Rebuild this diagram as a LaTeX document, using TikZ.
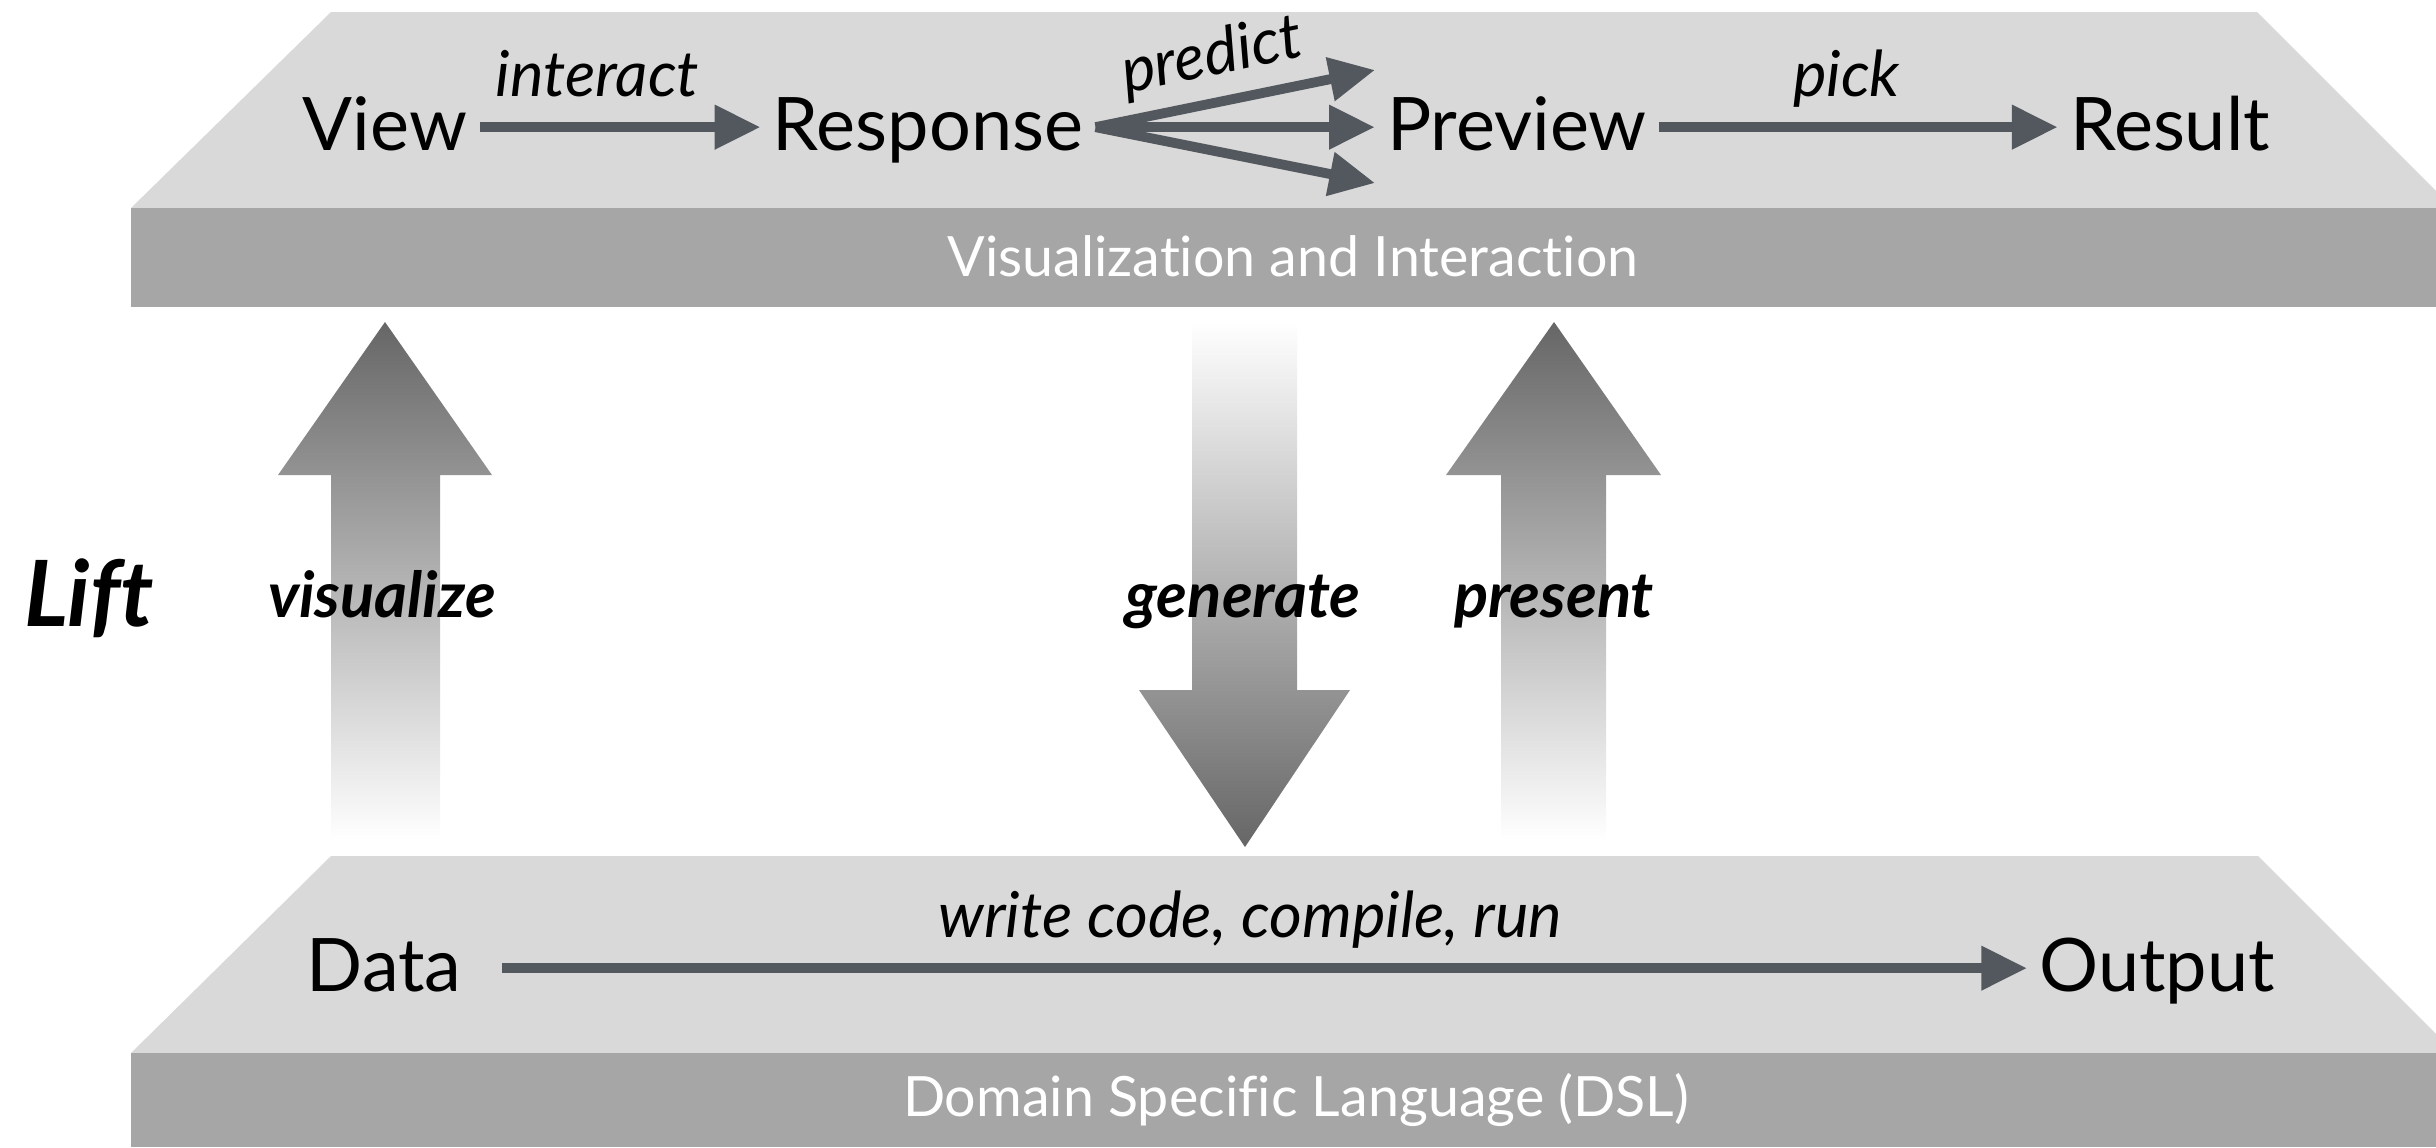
\documentclass[tikz,border=0pt]{standalone}
\usepackage{fontspec}
\setmainfont{Lato}[Ligatures=NoCommon]
\usetikzlibrary{arrows.meta}
\definecolor{placa}{HTML}{D9D9D9}
\definecolor{faixa}{HTML}{A6A6A6}
\definecolor{seta}{HTML}{53575E}
\definecolor{setagrande}{HTML}{666666}
\tikzset{
  termo/.style={font=\fontsize{21}{25}\selectfont, text height=16pt, text depth=3pt, anchor=base},
  rotulo/.style={font=\fontsize{18}{21}\selectfont\itshape, text=black, text depth=4pt},
  camada/.style={font=\fontsize{15.8}{19}\selectfont, text=white},
  acao/.style={font=\fontsize{18}{22}\selectfont\bfseries\itshape, anchor=base},
  fluxo/.style={seta, line width=2.8pt, -{Triangle[length=13pt,width=12pt]}},
}

\begin{document}
\begin{tikzpicture}[x=0.01cm,y=-0.01cm]
    \useasboundingbox (0,0) rectangle (2436,1147);

    % Camada de visualizacao (em cima)
    \fill[placa] (331,12) -- (2257,12) -- (2436,191) -- (2436,208) -- (131,208) -- cycle;
    \fill[faixa] (131,208) rectangle (2436,307);
    \node[camada] (visint) at (1293,256) {Visualization and Interaction};

    % Camada da DSL (embaixo)
    \fill[placa] (331,856) -- (2258,856) -- (2436,1034) -- (2436,1053) -- (131,1053) -- cycle;
    \fill[faixa] (131,1053) rectangle (2436,1147);
    \node[camada] (dsl) at (1296,1100) {Domain Specific Language (DSL)};

    % Setas grandes com degrade
    \shade[top color=setagrande, bottom color=white]
      (331,840) -- (331,475) -- (278,475) -- (385,322) -- (492,475) -- (440,475) -- (440,840) -- cycle;
    \shade[top color=white, bottom color=setagrande]
      (1192,322) -- (1192,690) -- (1139,690) -- (1245,847) -- (1350,690) -- (1297,690) -- (1297,322) -- cycle;
    \shade[top color=setagrande, bottom color=white]
      (1501,840) -- (1501,475) -- (1446,475) -- (1554,322) -- (1661,475) -- (1606,475) -- (1606,840) -- cycle;

    \node[acao, font=\fontsize{26}{31}\selectfont\bfseries\itshape] (lift) at (89,626) {Lift};
    \node[acao] (visualize) at (382,617) {visualize};
    \node[acao] (generate) at (1243,617) {generate};
    \node[acao] (present) at (1554,617) {present};

    % Termos de cima
    \node[termo] (view) at (385,150) {View};
    \node[termo] (response) at (928,150) {Response};
    \node[termo] (preview) at (1517,150) {Preview};
    \node[termo] (result) at (2170,150) {Result};
    \coordinate (alto) at (1375,70);
    \coordinate (baixo) at (1375,183);

    \draw[fluxo] (view) -- node[rotulo, above, pos=0.42] {interact} (response);
    \draw[fluxo] (response.east) -- node[rotulo, above=-1pt, sloped, pos=0.45] {predict} (alto);
    \draw[fluxo] (response.east) -- (preview.west);
    \draw[fluxo] (response.east) -- (baixo);
    \draw[fluxo] (preview) -- node[rotulo, above, pos=0.47] {pick} (result);

    % Termos de baixo
    \node[termo] (data) at (384,991) {Data};
    \node[termo] (output) at (2157,991) {Output};
    \draw[fluxo, shorten <=8pt] (data) -- node[rotulo, above] {write code, compile, run} (output);
\end{tikzpicture}
\end{document}
